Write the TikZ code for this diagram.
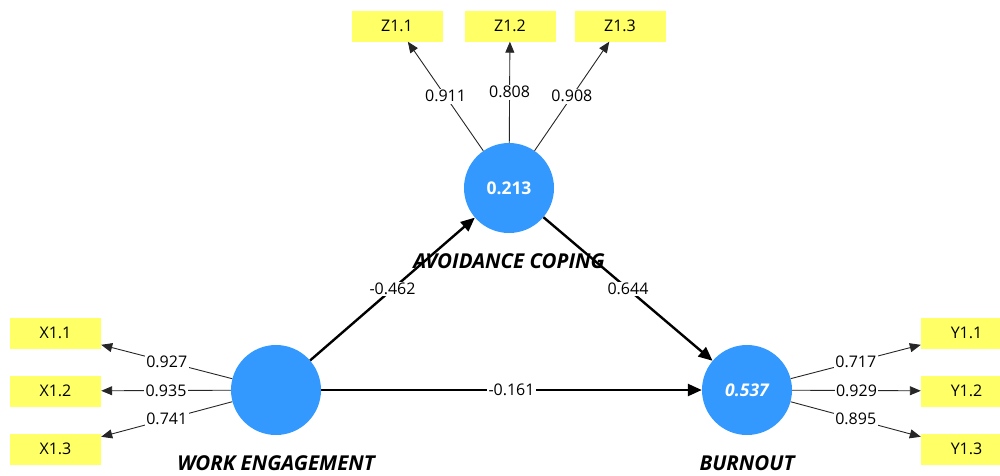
\documentclass[tikz,border=0pt]{standalone}
\usepackage{fontspec}
\setmainfont{Open Sans}
\usetikzlibrary{arrows.meta}
\definecolor{lvblue}{RGB}{51,153,255}
\definecolor{indyellow}{RGB}{255,255,102}
\begin{document}
\begin{tikzpicture}[x=1pt,y=-1pt,
  latent/.style={circle,fill=lvblue,minimum size=90pt,inner sep=0pt,text=white,
    font=\fontsize{17.5}{19}\selectfont\bfseries},
  indicator/.style={fill=indyellow,minimum width=91pt,minimum height=31pt,inner sep=0pt,
    font=\fontsize{16}{18}\selectfont},
  loading/.style={draw=black!85,line width=0.9pt,-{Triangle[length=11pt,width=9pt]}},
  structural/.style={draw=black,line width=2.4pt,-{Triangle[length=14pt,width=12pt]}},
  coef/.style={fill=white,inner sep=1.5pt,font=\fontsize{16}{18}\selectfont},
  lvname/.style={font=\fontsize{20.5}{22}\selectfont\bfseries\itshape}]
\useasboundingbox (0,0) rectangle (1000,475);

% latent variables
\node[latent] (ac) at (509,188) {0.213};
\node[latent] (we) at (276,390) {};
\node[latent] (bo) at (747,390) {\itshape 0.537};

% indicators
\node[indicator] (z1) at (397,26) {Z1.1};
\node[indicator] (z2) at (510,26) {Z1.2};
\node[indicator] (z3) at (620,26) {Z1.3};
\node[indicator] (x1) at (55.5,333) {X1.1};
\node[indicator] (x2) at (55.5,391) {X1.2};
\node[indicator] (x3) at (55.5,449) {X1.3};
\node[indicator] (y1) at (966.5,333) {Y1.1};
\node[indicator] (y2) at (966.5,391) {Y1.2};
\node[indicator] (y3) at (966.5,449) {Y1.3};

% outer loadings
\draw[loading] (ac) -- node[coef] {0.911} (z1);
\draw[loading] (ac) -- node[coef] {0.808} (z2);
\draw[loading] (ac) -- node[coef] {0.908} (z3);
\draw[loading] (we) -- node[coef] {0.927} (x1);
\draw[loading] (we) -- node[coef] {0.935} (x2);
\draw[loading] (we) -- node[coef] {0.741} (x3);
\draw[loading] (bo) -- node[coef] {0.717} (y1);
\draw[loading] (bo) -- node[coef] {0.929} (y2);
\draw[loading] (bo) -- node[coef] {0.895} (y3);

% path coefficients
\draw[structural] (we) -- node[coef] {-0.462} (ac);
\draw[structural] (ac) -- node[coef] {0.644} (bo);
\draw[structural] (we) -- node[coef] {-0.161} (bo);

% construct names
\node[lvname] (acname) at (509,261) {AVOIDANCE COPING};
\node[lvname] (wename) at (276,463) {WORK ENGAGEMENT};
\node[lvname] (boname) at (747,463) {BURNOUT};
\end{tikzpicture}
\end{document}
